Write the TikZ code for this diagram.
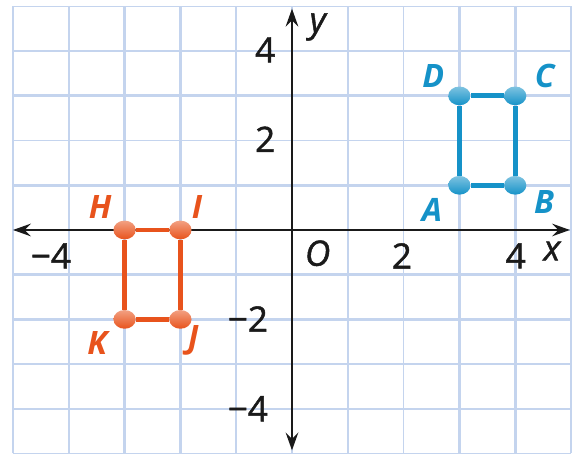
\documentclass[tikz,border=0pt]{standalone}
\usepackage{fontspec}
\setmainfont{Open Sans}
\newfontfamily\numfont{Open Sans}[FakeBold=1.3]
\usepackage{xcolor}
\usepackage{tikz}
\usetikzlibrary{arrows.meta,positioning,calc,shapes.geometric}
\definecolor{GridBlue}{HTML}{C4D4EE}
\definecolor{FigBlue}{HTML}{1592C8}
\definecolor{FigOrange}{HTML}{E8531C}
\definecolor{AxisInk}{HTML}{1A1A1A}

\begin{document}
\begin{tikzpicture}[x=1.4cm,y=1.1215cm,
  gridline/.style={draw=GridBlue,line width=1.2pt},
  gridbold/.style={draw=GridBlue,line width=2.2pt},
  axis/.style={draw=AxisInk,line width=1pt,{Stealth[length=4.5mm,width=3.2mm,inset=1.6mm]}-{Stealth[length=4.5mm,width=3.2mm,inset=1.6mm]}},
  num/.style={font=\numfont\fontsize{25}{25}\selectfont,text=AxisInk,inner sep=0pt},
  varlab/.style={font=\numfont\fontsize{25}{25}\selectfont\itshape,text=AxisInk,inner sep=0pt},
  vtx/.style={ellipse,minimum width=5.6mm,minimum height=4.7mm,inner sep=0pt},
  bluevtx/.style={vtx,shade,top color=FigBlue!55!white,bottom color=FigBlue},
  orangevtx/.style={vtx,shade,top color=FigOrange!55!white,bottom color=FigOrange},
  bluebar/.style={draw=FigBlue,line width=3.5pt},
  orangebar/.style={draw=FigOrange,line width=3.5pt},
  ptlab/.style={font=\fontsize{23}{23}\selectfont\bfseries\itshape,inner sep=0pt},
  bluelab/.style={ptlab,text=FigBlue},
  orangelab/.style={ptlab,text=FigOrange}
]
\useasboundingbox (-5.233,-5.011) rectangle (5.054,5.145);
% grid
\foreach \k in {-5,...,5} {
  \draw[gridline] (\k,-5) -- (\k,5);
  \draw[gridline] (-5,\k) -- (5,\k);
}
\foreach \k in {-3,-2,3,4} \draw[gridbold] (\k,-5) -- (\k,5);
\foreach \k in {3,1,-1,-2} \draw[gridbold] (-5,\k) -- (5,\k);

% axes
\coordinate (xl) at (-5,0);
\coordinate (xr) at (4.98,0);
\coordinate (yt) at (0,4.95);
\coordinate (yb) at (0,-4.93);
\coordinate (O) at (0,0);
\draw[axis] (xl) -- (xr);
\draw[axis] (yb) -- (yt);

% tick labels
\node[num] (ty4) at (-0.48,4.03) {4};
\node[num] (ty2) at (-0.48,2.03) {2};
\node[num] (tym2) at (-0.79,-1.99) {−2};
\node[num] (tym4) at (-0.79,-4.0) {−4};
\node[num] (txm4) at (-4.32,-0.58) {−4};
\node[num] (tx2) at (1.97,-0.58) {2};
\node[num] (tx4) at (4.01,-0.58) {4};
\node[varlab] (labO) at (0.46,-0.52) {O};
\node[varlab] (labx) at (4.66,-0.47) {x};
\node[varlab] (laby) at (0.46,4.54) {y};

% rectangle ABCD
\node[bluevtx] (A) at (3,1) {};
\node[bluevtx] (B) at (4,1) {};
\node[bluevtx] (C) at (4,3) {};
\node[bluevtx] (D) at (3,3) {};
\draw[bluebar] (A) -- (B) -- (C) -- (D) -- (A);
\node[bluelab] (labA) at ($(A)+(-0.49,-0.55)$) {A};
\node[bluelab] (labB) at ($(B)+(0.52,-0.37)$) {B};
\node[bluelab] (labC) at ($(C)+(0.53,0.45)$) {C};
\node[bluelab] (labD) at ($(D)+(-0.47,0.45)$) {D};

% rectangle HIJK
\node[orangevtx] (H) at (-3,0) {};
\node[orangevtx] (I) at (-2,0) {};
\node[orangevtx] (J) at (-2,-2) {};
\node[orangevtx] (K) at (-3,-2) {};
\draw[orangebar] (H) -- (I) -- (J) -- (K) -- (H);
\node[orangelab] (labH) at ($(H)+(-0.44,0.51)$) {H};
\node[orangelab] (labI) at ($(I)+(0.30,0.51)$) {I};
\node[orangelab] (labJ) at ($(J)+(0.23,-0.48)$) {J};
\node[orangelab] (labK) at ($(K)+(-0.49,-0.52)$) {K};
\end{tikzpicture}
\end{document}
